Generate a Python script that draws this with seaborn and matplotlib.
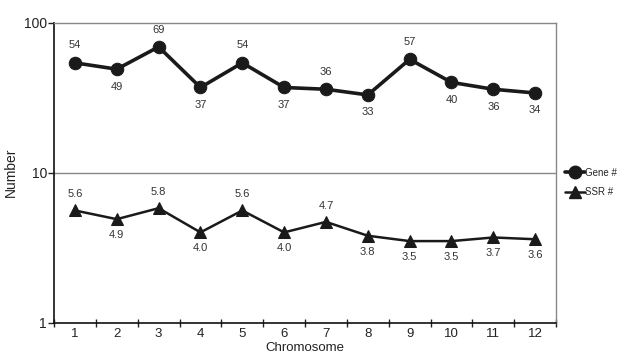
import matplotlib

matplotlib.use("Agg")
import matplotlib.pyplot as plt
import numpy as np
import pandas as pd
import seaborn as sns
from matplotlib.lines import Line2D

chromosomes = list(range(1, 13))
gene_counts = [54, 49, 69, 37, 54, 37, 36, 33, 57, 40, 36, 34]
ssr_counts = [5.6, 4.9, 5.8, 4.0, 5.6, 4.0, 4.7, 3.8, 3.5, 3.5, 3.7, 3.6]
gene_labels = ["54", "49", "69", "37", "54", "37", "36", "33", "57", "40", "36", "34"]
ssr_labels = ["5.6", "4.9", "5.8", "4.0", "5.6", "4.0", "4.7", "3.8", "3.5", "3.5", "3.7", "3.6"]
# label placement: +1 above the point, -1 below
gene_side = [1, -1, 1, -1, 1, -1, 1, -1, 1, -1, -1, -1]
ssr_side = [1, -1, 1, -1, 1, -1, 1, -1, -1, -1, -1, -1]

sns.set_style("white")
plt.rcParams["font.family"] = ["Liberation Sans", "DejaVu Sans"]

df = pd.DataFrame({
    "Chromosome": chromosomes * 2,
    "Number": gene_counts + ssr_counts,
    "Series": ["Gene #"] * 12 + ["SSR #"] * 12,
})

fig = plt.figure(figsize=(6.26, 3.58), dpi=100)
ax = fig.add_axes([0.0863, 0.0986, 0.802, 0.838])

dark = "#1a1a1a"
sns.lineplot(data=df[df.Series == "Gene #"], x="Chromosome", y="Number", ax=ax,
             color=dark, linewidth=2.6, marker="o", markersize=9,
             markeredgecolor=dark, legend=False)
sns.lineplot(data=df[df.Series == "SSR #"], x="Chromosome", y="Number", ax=ax,
             color=dark, linewidth=1.8, marker="^", markersize=9,
             markeredgecolor=dark, legend=False)

ax.set_yscale("log")
ax.set_ylim(1, 100)
ax.set_xlim(0.5, 12.5)
ax.axhline(10, color="#888888", linewidth=1.0, zorder=0)

for x, y, t, s in zip(chromosomes, gene_counts, gene_labels, gene_side):
    ax.annotate(t, (x, y), xytext=(0, 12.5 * s), textcoords="offset points",
                ha="center", va="center", fontsize=8, color="#333333")
for x, y, t, s in zip(chromosomes, ssr_counts, ssr_labels, ssr_side):
    ax.annotate(t, (x, y), xytext=(0, 11.5 * s), textcoords="offset points",
                ha="center", va="center", fontsize=8, color="#333333")

ax.set_xticks(chromosomes)
ax.set_xticklabels([str(c) for c in chromosomes], fontsize=9.5, color="#222222")
ax.set_xticks(np.arange(0.5, 13, 1), minor=True)
ax.tick_params(axis="x", which="both", bottom=True)
ax.tick_params(axis="x", which="major", length=0, pad=4)
ax.tick_params(axis="x", which="minor", length=6, direction="inout", width=1, color="#222222")
ax.set_yticks([1, 10, 100])
ax.set_yticklabels(["1", "10", "100"], fontsize=10, color="#222222")
ax.yaxis.set_minor_locator(matplotlib.ticker.NullLocator())
ax.tick_params(axis="y", which="major", left=True, length=4, direction="out",
               width=1, color="#222222", pad=1)

for side in ["left", "bottom"]:
    ax.spines[side].set_color("#111111")
    ax.spines[side].set_linewidth(1.2)
for side in ["top", "right"]:
    ax.spines[side].set_color("#888888")
    ax.spines[side].set_linewidth(1.0)

ax.set_xlabel("Chromosome", fontsize=9.5, color="#222222", labelpad=1)
ax.set_ylabel("Number", fontsize=10, color="#222222")
ax.yaxis.set_label_coords(-0.072, 0.5)

handles = [
    Line2D([], [], color=dark, linewidth=2.6, marker="o", markersize=9),
    Line2D([], [], color=dark, linewidth=1.8, marker="^", markersize=9),
]
fig.legend(handles, ["Gene #", "SSR #"], loc="center left",
           bbox_to_anchor=(0.895, 0.49), frameon=False, fontsize=7,
           handlelength=2.0, handletextpad=0.05, labelspacing=1.0, borderpad=0)

fig.savefig("out.png", dpi=100)
